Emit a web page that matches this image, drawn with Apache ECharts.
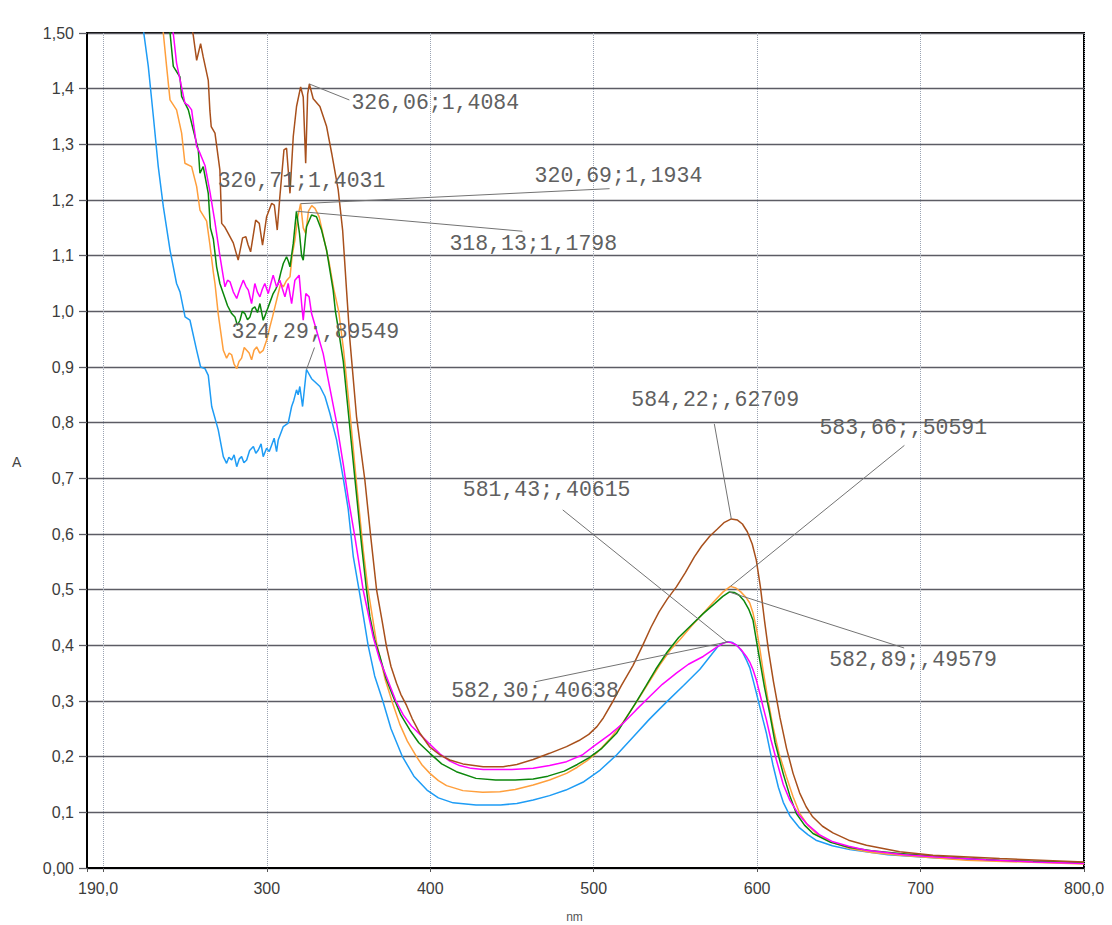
<!DOCTYPE html>
<html>
<head>
<meta charset="utf-8">
<script src="https://cdn.jsdelivr.net/npm/echarts@6/dist/echarts.min.js"></script>
<style>
html, body { margin: 0; padding: 0; background: #fff; }
#chart { width: 1112px; height: 925px; }
</style>
</head>
<body>
<div id="chart"></div>
<script>
// Absorption spectra, [wavelength nm, absorbance A]
const brownSpectrum = [
  [251,1.56],[255.0,1.496],[257.1,1.451],[259.5,1.481],[261.1,1.457],[264.2,1.415],[265.2,1.36],[266.0,1.332],
  [268.3,1.320],[271.3,1.254],[272.4,1.158],[274.4,1.151],[276.4,1.140],[279.5,1.123],[282.5,1.092],[285.2,1.132],
  [287.2,1.134],[288.5,1.120],[290.1,1.107],[293.2,1.164],[295.4,1.158],[297.4,1.119],[299.9,1.170],[303.0,1.194],
  [304.6,1.191],[306.4,1.146],[308.0,1.206],[310.5,1.290],[312.1,1.293],[314.2,1.212],[316.2,1.314],[318.2,1.368],
  [320.71,1.4031],[322.3,1.385],[323.8,1.266],[325.0,1.390],[326.06,1.4084],[328.4,1.382],[332.5,1.368],[336.6,1.332],
  [339.7,1.284],[343.7,1.218],[346.4,1.146],[348.8,1.038],[350.8,0.950],[354.9,0.811],[360.0,0.697],[363.5,0.598],
  [367.2,0.499],[370.5,0.445],[373.3,0.397],[376.0,0.362],[379.4,0.332],[382.0,0.312],[385.5,0.292],[389.0,0.268],
  [393.7,0.242],[399.8,0.217],[406.0,0.203],[412.0,0.194],[420.0,0.187],[432.4,0.182],[444.6,0.182],[453.0,0.186],
  [463.0,0.195],[473.0,0.206],[483.4,0.218],[491.0,0.229],[497.0,0.240],[502.0,0.254],[506.0,0.270],[511.9,0.300],
  [517.0,0.328],[524.1,0.364],[530.0,0.400],[535.0,0.432],[540.0,0.460],[545.0,0.483],[550.6,0.505],[556.0,0.530],
  [561.6,0.559],[566.0,0.578],[571.0,0.596],[575.7,0.609],[580.0,0.621],[584.22,0.62709],[588.0,0.625],[591.0,0.618],
  [594.0,0.604],[597.0,0.582],[599.5,0.553],[602.0,0.505],[604.5,0.445],[607.0,0.390],[610.0,0.335],[614.0,0.270],
  [618.0,0.215],[622.0,0.170],[626.0,0.135],[630.0,0.110],[634.0,0.092],[640.0,0.075],[646.4,0.063],[656.0,0.050],
  [666.9,0.041],[687.2,0.029],[707.6,0.023],[748.4,0.017],[800,0.011]
];
const orangeSpectrum = [
  [234,1.58],[238.7,1.44],[240.8,1.38],[244.8,1.362],[247.9,1.32],[249.9,1.266],[254.0,1.26],[257.1,1.224],
  [259.1,1.182],[263.2,1.162],[265.2,1.12],[267.3,1.07],[268.3,1.05],[270.3,0.995],[273.4,0.93],[275.4,0.916],
  [277.0,0.925],[278.5,0.922],[280.0,0.905],[281.6,0.897],[283.0,0.91],[284.6,0.916],[286.2,0.935],[287.7,0.93],
  [289.2,0.925],[290.7,0.913],[292.2,0.93],[293.8,0.936],[295.7,0.925],[297.8,0.93],[299.9,0.948],[301.9,0.972],
  [303.5,0.99],[305.0,1.008],[307.0,1.032],[308.5,1.05],[310.1,1.044],[312.0,1.055],[314.2,1.062],[315.5,1.10],
  [317.2,1.128],[319.0,1.17],[320.69,1.1934],[322.3,1.15],[323.8,1.14],[325.5,1.18],[327.5,1.19],[329.5,1.185],
  [332.0,1.17],[335.0,1.13],[338.0,1.09],[341.0,1.04],[344.0,1.00],[347.0,0.93],[350.8,0.82],[354.9,0.691],
  [359.0,0.571],[362.0,0.499],[367.2,0.404],[372.5,0.338],[377.0,0.296],[381.4,0.258],[386.0,0.228],[391.6,0.20],
  [395.0,0.185],[399.8,0.170],[405.0,0.157],[410.0,0.148],[420.0,0.139],[432.0,0.136],[442.6,0.137],[452.0,0.141],
  [463.0,0.149],[473.0,0.158],[483.4,0.170],[490.0,0.181],[496.0,0.193],[502.0,0.207],[510.0,0.232],[518.0,0.262],
  [526.2,0.298],[533.0,0.330],[540.5,0.365],[547.0,0.392],[552.7,0.410],[560.0,0.435],[566.9,0.457],[573.0,0.477],
  [579.2,0.496],[583.66,0.50591],[587.0,0.503],[590.0,0.496],[593.0,0.487],[595.5,0.476],[597.5,0.458],[599.6,0.430],
  [601.6,0.395],[603.6,0.356],[606.5,0.305],[609.7,0.254],[613.5,0.205],[617.9,0.164],[622.0,0.128],[626.1,0.098],
  [631.0,0.077],[636.3,0.062],[645.0,0.047],[656.7,0.035],[670.0,0.028],[687.2,0.023],[728.0,0.014],[800,0.007]
];
const greenSpectrum = [
  [238.5,1.57],[242.8,1.44],[246.9,1.421],[247.9,1.386],[252.0,1.362],[255.0,1.326],[258.1,1.29],[259.1,1.248],
  [261.1,1.26],[264.2,1.212],[265.5,1.15],[267.3,1.13],[269.3,1.08],[271.3,1.05],[273.4,1.032],[276.0,1.01],
  [278.5,0.996],[280.5,0.99],[282.0,0.975],[283.6,0.984],[285.0,1.0],[286.6,0.996],[288.2,0.985],[289.7,0.99],
  [291.2,1.005],[292.7,1.008],[294.3,0.998],[295.8,1.014],[297.8,0.984],[299.3,0.995],[300.9,1.008],[303.9,1.032],
  [305.5,1.04],[307.0,1.05],[308.6,1.07],[310.1,1.086],[312.1,1.098],[313.2,1.09],[314.2,1.08],[316.2,1.122],
  [318.13,1.1798],[320.0,1.14],[321.3,1.10],[322.3,1.092],[324.3,1.152],[327.4,1.173],[330.4,1.17],[333.5,1.146],
  [336.6,1.11],[340.6,1.038],[342.0,1.0],[343.7,0.97],[346.8,0.91],[349.5,0.83],[353.9,0.70],[358.0,0.58],
  [361.0,0.50],[363.1,0.451],[366.0,0.41],[369.2,0.38],[373.0,0.34],[377.3,0.308],[382.0,0.275],[387.5,0.248],
  [393.0,0.225],[399.8,0.206],[407.0,0.187],[416.0,0.173],[428.0,0.161],[440.0,0.158],[452.0,0.158],[463.0,0.160],
  [472.0,0.165],[482.0,0.174],[490.0,0.186],[497.0,0.198],[505.0,0.215],[514.0,0.242],[520.0,0.270],[526.0,0.298],
  [532.0,0.327],[538.0,0.357],[545.0,0.388],[552.0,0.414],[560.0,0.437],[567.0,0.457],[574.0,0.475],[579.0,0.488],
  [582.89,0.49579],[586.0,0.495],[589.0,0.490],[592.0,0.480],[595.0,0.464],[597.5,0.445],[599.5,0.410],[601.6,0.374],
  [604.5,0.325],[607.7,0.278],[611.0,0.225],[615.9,0.170],[620.0,0.130],[624.0,0.098],[629.0,0.077],[634.2,0.062],
  [645.0,0.046],[656.7,0.037],[670.0,0.031],[687.2,0.026],[720.0,0.019],[748.4,0.014],[800,0.010]
];
const magentaSpectrum = [
  [240.5,1.56],[244.8,1.446],[249.9,1.374],[252.0,1.37],[254.0,1.362],[257.1,1.296],[259.0,1.285],[262.2,1.262],
  [265.2,1.215],[268.3,1.16],[271.3,1.10],[272.4,1.08],[274.4,1.044],[276.0,1.056],[277.5,1.053],[279.5,1.035],
  [281.6,1.023],[283.5,1.04],[285.6,1.056],[287.2,1.045],[288.7,1.038],[290.7,1.014],[292.7,1.05],[294.2,1.035],
  [295.8,1.026],[297.3,1.04],[298.8,1.05],[300.9,1.032],[302.5,1.05],[303.9,1.065],[306.0,1.044],[308.0,1.056],
  [309.6,1.04],[311.1,1.026],[313.1,1.05],[315.2,1.014],[317.2,1.056],[319.8,1.065],[321.3,1.014],[322.3,0.984],
  [323.9,1.032],[325.9,1.026],[327.4,0.996],[330.4,0.966],[334.5,0.924],[338.6,0.862],[342.7,0.80],[346.8,0.725],
  [349.8,0.665],[353.9,0.595],[359.0,0.499],[365.1,0.415],[369.0,0.375],[373.3,0.343],[379.0,0.30],[383.5,0.275],
  [388.5,0.255],[393.7,0.24],[400.0,0.222],[405.9,0.205],[412.0,0.192],[418.0,0.184],[425.0,0.179],[432.4,0.177],
  [450.0,0.177],[463.0,0.179],[473.0,0.184],[483.4,0.191],[493.0,0.203],[499.7,0.218],[510.0,0.24],[518.0,0.26],
  [526.0,0.284],[534.3,0.308],[542.0,0.33],[550.6,0.35],[558.0,0.366],[567.0,0.38],[572.0,0.39],[576.0,0.398],
  [579.0,0.403],[581.43,0.40615],[584.0,0.405],[587.0,0.401],[590.0,0.393],[593.4,0.38],[595.5,0.37],[597.5,0.356],
  [599.5,0.338],[601.6,0.314],[603.6,0.29],[605.7,0.266],[608.5,0.23],[611.8,0.194],[616.0,0.15],[620.0,0.122],
  [625.0,0.098],[630.2,0.08],[638.0,0.06],[646.4,0.047],[656.0,0.039],[666.9,0.032],[690.0,0.024],[707.6,0.02],
  [740.0,0.015],[768.8,0.011],[800,0.008]
];
const blueSpectrum = [
  [222,1.56],[227.5,1.44],[230.6,1.35],[233.6,1.26],[236.7,1.188],[240.8,1.11],[244.8,1.05],[246.9,1.035],
  [250,0.99],[253,0.984],[257.1,0.93],[259.5,0.90],[262.2,0.897],[264.2,0.885],[266.3,0.829],[270.3,0.787],
  [273.4,0.739],[275.4,0.727],[276.8,0.738],[278.5,0.733],[280,0.742],[281.6,0.721],[283.2,0.735],[284.6,0.739],
  [286,0.728],[287.7,0.733],[289.5,0.75],[291.8,0.757],[293.3,0.745],[294.8,0.751],[296.5,0.762],[297.8,0.739],
  [299.9,0.754],[301.5,0.748],[303,0.76],[304.5,0.772],[306,0.748],[307,0.769],[310.1,0.793],[313.1,0.799],
  [315.2,0.829],[316.5,0.84],[318.2,0.859],[319.2,0.85],[320.2,0.865],[321.9,0.829],[323,0.86],[324.29,0.89549],
  [327.4,0.879],[332.5,0.865],[335.6,0.847],[338.6,0.817],[342.7,0.769],[346.8,0.70],[349.8,0.645],[352.9,0.56],
  [357,0.49],[362,0.40],[366,0.345],[371,0.30],[376,0.25],[383,0.20],[390,0.165],[398,0.14],
  [405,0.126],[414,0.117],[428,0.113],[443,0.113],[453,0.116],[463,0.122],[473,0.13],[483,0.14],
  [494,0.155],[504,0.176],[514,0.203],[524,0.235],[534,0.267],[544.5,0.298],[555,0.328],[565,0.357],
  [572,0.383],[576,0.398],[579,0.404],[582.3,0.40638],[585,0.405],[588,0.399],[591,0.388],[593.4,0.374],
  [595.5,0.36],[597.5,0.338],[599.5,0.315],[601.6,0.29],[603.6,0.266],[605.7,0.242],[609.7,0.185],[613,0.145],
  [616,0.118],[620,0.094],[626,0.072],[631,0.06],[636,0.05],[646,0.04],[656.7,0.033],[680,0.024],
  [710,0.018],[750,0.013],[800,0.009]
];

// Marked peaks: wavelength and absorbance
const peakNm  = [326.06, 320.71, 320.69, 318.13, 324.29, 584.22, 583.66, 582.89, 581.43, 582.30];
const peakAbs = [1.4084, 1.4031, 1.1934, 1.1798, 0.89549, 0.62709, 0.50591, 0.49579, 0.40615, 0.40638];

// Axis tick values
const xTickValues  = [190, 200, 300, 400, 500, 600, 700, 800];
const xLabelValues = [190, 300, 400, 500, 600, 700, 800];

// Callout placement, pixels from the peak: [text dx, text dy, leader end dx, leader end dy]
const calloutOffsets = [
  [42, 19, 40, 16],
  [-83, 94, null, null],
  [234, -28, 309, -15],
  [153, 33, 226, 20],
  [-75, -38, 8, -22],
  [-100, -119, -17, -95],
  [89, -158, 174, -141],
  [100, 68, 175, 56],
  [-264, -152, -164, -132],
  [-277, 49, -193, 40]
];

const nmText = n => n.toFixed(2).replace('.', ',');
const absText = a => {
  let s = String(a);
  if (s.startsWith('0.')) s = s.slice(1);
  return s.replace('.', ',');
};

const sansFamily = '"Liberation Sans", Arial, sans-serif';
const tickFamily = '"Liberation Sans Narrow", "Arial Narrow", "Liberation Sans", Arial, sans-serif';
const tickFont = { fontFamily: tickFamily, fontSize: 16, color: '#3c3c3c' };

function spectrum(data, color) {
  return {
    type: 'line',
    data: data,
    showSymbol: false,
    symbol: 'none',
    smooth: false,
    clip: true,
    lineStyle: { color: color, width: 1.5 },
    itemStyle: { color: color },
    emphasis: { disabled: true },
    z: 3
  };
}

const chart = echarts.init(document.getElementById('chart'), null, { renderer: 'svg' });

chart.setOption({
  animation: false,
  backgroundColor: '#ffffff',
  grid: {
    left: 87, right: 28, top: 33, bottom: 57,
    show: true, borderColor: '#000', borderWidth: 2, backgroundColor: '#fff',
    outerBoundsMode: 'none'
  },
  xAxis: {
    type: 'value',
    min: 190, max: 800,
    name: 'nm',
    nameLocation: 'middle',
    nameGap: 43,
    nameTextStyle: { fontFamily: sansFamily, fontSize: 12, color: '#555', padding: [0, 22, 0, 0] },
    axisLine: { show: true, onZero: false, lineStyle: { color: '#000', width: 2 } },
    axisTick: { show: true, customValues: xTickValues, length: 4, lineStyle: { color: '#555' } },
    axisLabel: Object.assign({
      customValues: xLabelValues,
      margin: 12,
      showMinLabel: true, showMaxLabel: true,
      formatter: v => {
        if (v === 190) return '{first|190,0}';
        if (v === 800) return '800,0';
        return String(v);
      },
      rich: {
        first: { fontFamily: tickFamily, fontSize: 16, color: '#3c3c3c', padding: [0, 0, 0, 22] }
      }
    }, tickFont),
    splitLine: { show: true, lineStyle: { color: '#9aa3b2', width: 1, type: 'dotted' } }
  },
  yAxis: {
    type: 'value',
    min: 0, max: 1.5, interval: 0.1,
    axisLine: { show: true, onZero: false, lineStyle: { color: '#000', width: 2 } },
    axisTick: { show: true, length: 8, lineStyle: { color: '#5c5c64', width: 1.3 } },
    axisLabel: Object.assign({
      margin: 13,
      showMinLabel: true, showMaxLabel: true,
      formatter: v => {
        if (Math.abs(v) < 1e-9) return '0,00';
        if (Math.abs(v - 1.5) < 1e-9) return '1,50';
        return v.toFixed(1).replace('.', ',');
      }
    }, tickFont),
    splitLine: { show: true, lineStyle: { color: '#5c5c64', width: 1.3 } }
  },
  graphic: [{
    type: 'text', left: 12, top: 455,
    style: { text: 'A', font: '14px "Liberation Sans", Arial, sans-serif', fill: '#444' }
  }],
  series: [
    spectrum(blueSpectrum, '#1e9cf5'),
    spectrum(orangeSpectrum, '#ff9f3c'),
    spectrum(greenSpectrum, '#0b870b'),
    spectrum(magentaSpectrum, '#ff00ff'),
    spectrum(brownSpectrum, '#a8501c'),
    {
      type: 'custom',
      coordinateSystem: 'cartesian2d',
      clip: false,
      z: 5,
      silent: true,
      encode: { x: 0, y: 1 },
      data: peakNm.map((n, i) => [n, peakAbs[i], i]),
      renderItem: (params, api) => {
        const i = api.value(2);
        const p = api.coord([api.value(0), api.value(1)]);
        const o = calloutOffsets[i];
        const children = [];
        if (o[2] !== null) {
          children.push({
            type: 'line',
            shape: { x1: p[0], y1: p[1], x2: p[0] + o[2], y2: p[1] + o[3] },
            style: { stroke: '#737373', lineWidth: 1 }
          });
        }
        children.push({
          type: 'text',
          x: p[0] + o[0], y: p[1] + o[1],
          style: {
            text: nmText(peakNm[i]) + ';' + absText(peakAbs[i]),
            fill: '#606060',
            font: '21.5px "Liberation Mono", "Courier New", monospace',
            align: 'left', verticalAlign: 'middle'
          }
        });
        return { type: 'group', children: children };
      }
    }
  ]
});
</script>
</body>
</html>
